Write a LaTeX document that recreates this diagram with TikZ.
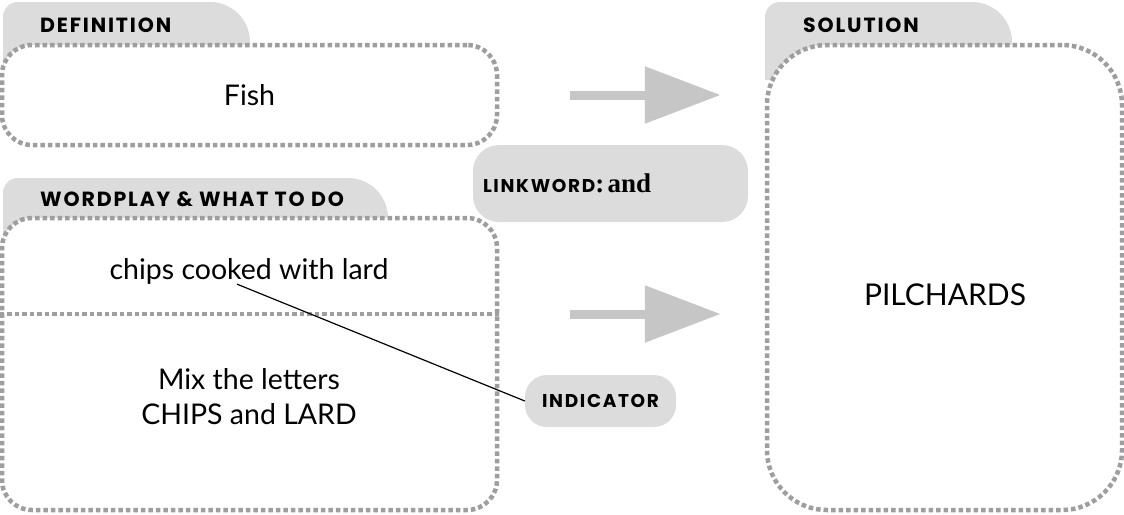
\documentclass[tikz,border=0pt]{standalone}
\usepackage{fontspec}
\setmainfont{Lato}
\newfontfamily\tabfont[LetterSpace=9]{Poppins}
\newfontfamily\linkfont{Liberation Serif}
\usetikzlibrary{arrows.meta, positioning, calc}
\definecolor{tabgrey}{HTML}{DCDCDD}
\definecolor{arrgrey}{HTML}{C6C6C7}
\definecolor{framegrey}{HTML}{9E9EA0}
\tikzset{
	frame/.style={draw=framegrey, line width=4.5pt, dash pattern=on 4.5pt off 3pt},
	box/.style={frame, fill=white, rounded corners=30pt, inner sep=0pt},
	tab/.style={fill=tabgrey},
	tablabel/.style={anchor=west, inner sep=0pt, font=\tabfont\bfseries\fontsize{20.5}{24}\selectfont},
	pill/.style={fill=tabgrey, rounded corners=26pt, inner sep=0pt},
	word/.style={align=center, inner sep=0pt, font=\fontsize{28.5}{35}\selectfont},
	bigarr/.style={draw=arrgrey, line width=9pt, -{Triangle[length=76pt, width=55pt]}}
}

\begin{document}
\begin{tikzpicture}[x=1pt, y=-1pt]
        \useasboundingbox (0,0) rectangle (1124,514);

        \fill[tab] (3,80) [rounded corners=15pt] -- (3,2) [rounded corners=40pt] -- (250,2) [sharp corners] -- (250,80) -- cycle;
        \fill[tab] (3,256) [rounded corners=15pt] -- (3,178) [rounded corners=40pt] -- (388,178) [sharp corners] -- (388,256) -- cycle;
        \fill[tab] (765,80) [rounded corners=15pt] -- (765,2) [rounded corners=40pt] -- (1012,2) [sharp corners] -- (1012,80) -- cycle;

        \node[box, minimum width=495pt, minimum height=100pt] (def) at (249.5,95) {};
        \node[box, minimum width=495pt, minimum height=292pt] (wp) at (249.5,364) {};
        \node[box, rounded corners=60pt, minimum width=355pt, minimum height=465pt] (sol) at (944.5,277.5) {};

        \node[tablabel] (deflabel) at (40,25) {DEFINITION};
        \node[tablabel] (wplabel) at (40,199) {WORDPLAY \& WHAT TO DO};
        \node[tablabel] (sollabel) at (803,25) {SOLUTION};

        \node[word] (fish) at (def) {Fish};
        \node[word] (chips) at (249,271) {chips cooked with lard};
        \node[word] (mix) at (249,397) {Mix the letters\\CHIPS and LARD};
        \node[word, font=\fontsize{30}{36}\selectfont] (pil) at (945,295) {PILCHARDS};

        \coordinate (split) at (249.5,314);
        \draw[frame] (wp.west |- split) -- (wp.east |- split);

        \node[pill, minimum width=275pt, minimum height=77pt, text width=255pt, align=left] (link) at (610.5,183.5)
            {{\tabfont\bfseries\fontsize{18.5}{22}\selectfont LINKWORD}{\linkfont\bfseries\fontsize{27}{30}\selectfont: and}};
        \node[pill, rounded corners=22pt, minimum width=151pt, minimum height=52pt, font=\tabfont\bfseries\fontsize{18.5}{22}\selectfont] (ind) at (600.5,401) {INDICATOR};

        \draw[bigarr, shorten <=71pt, shorten >=44pt] (def.east) -- (def.east -| sol.west);
        \draw[bigarr, shorten <=71pt, shorten >=44pt] (wp.east |- split) -- (split -| sol.west);

        \draw[line width=1.2pt] ([xshift=-12pt]chips.south) -- (ind.west);
    \end{tikzpicture}
\end{document}
